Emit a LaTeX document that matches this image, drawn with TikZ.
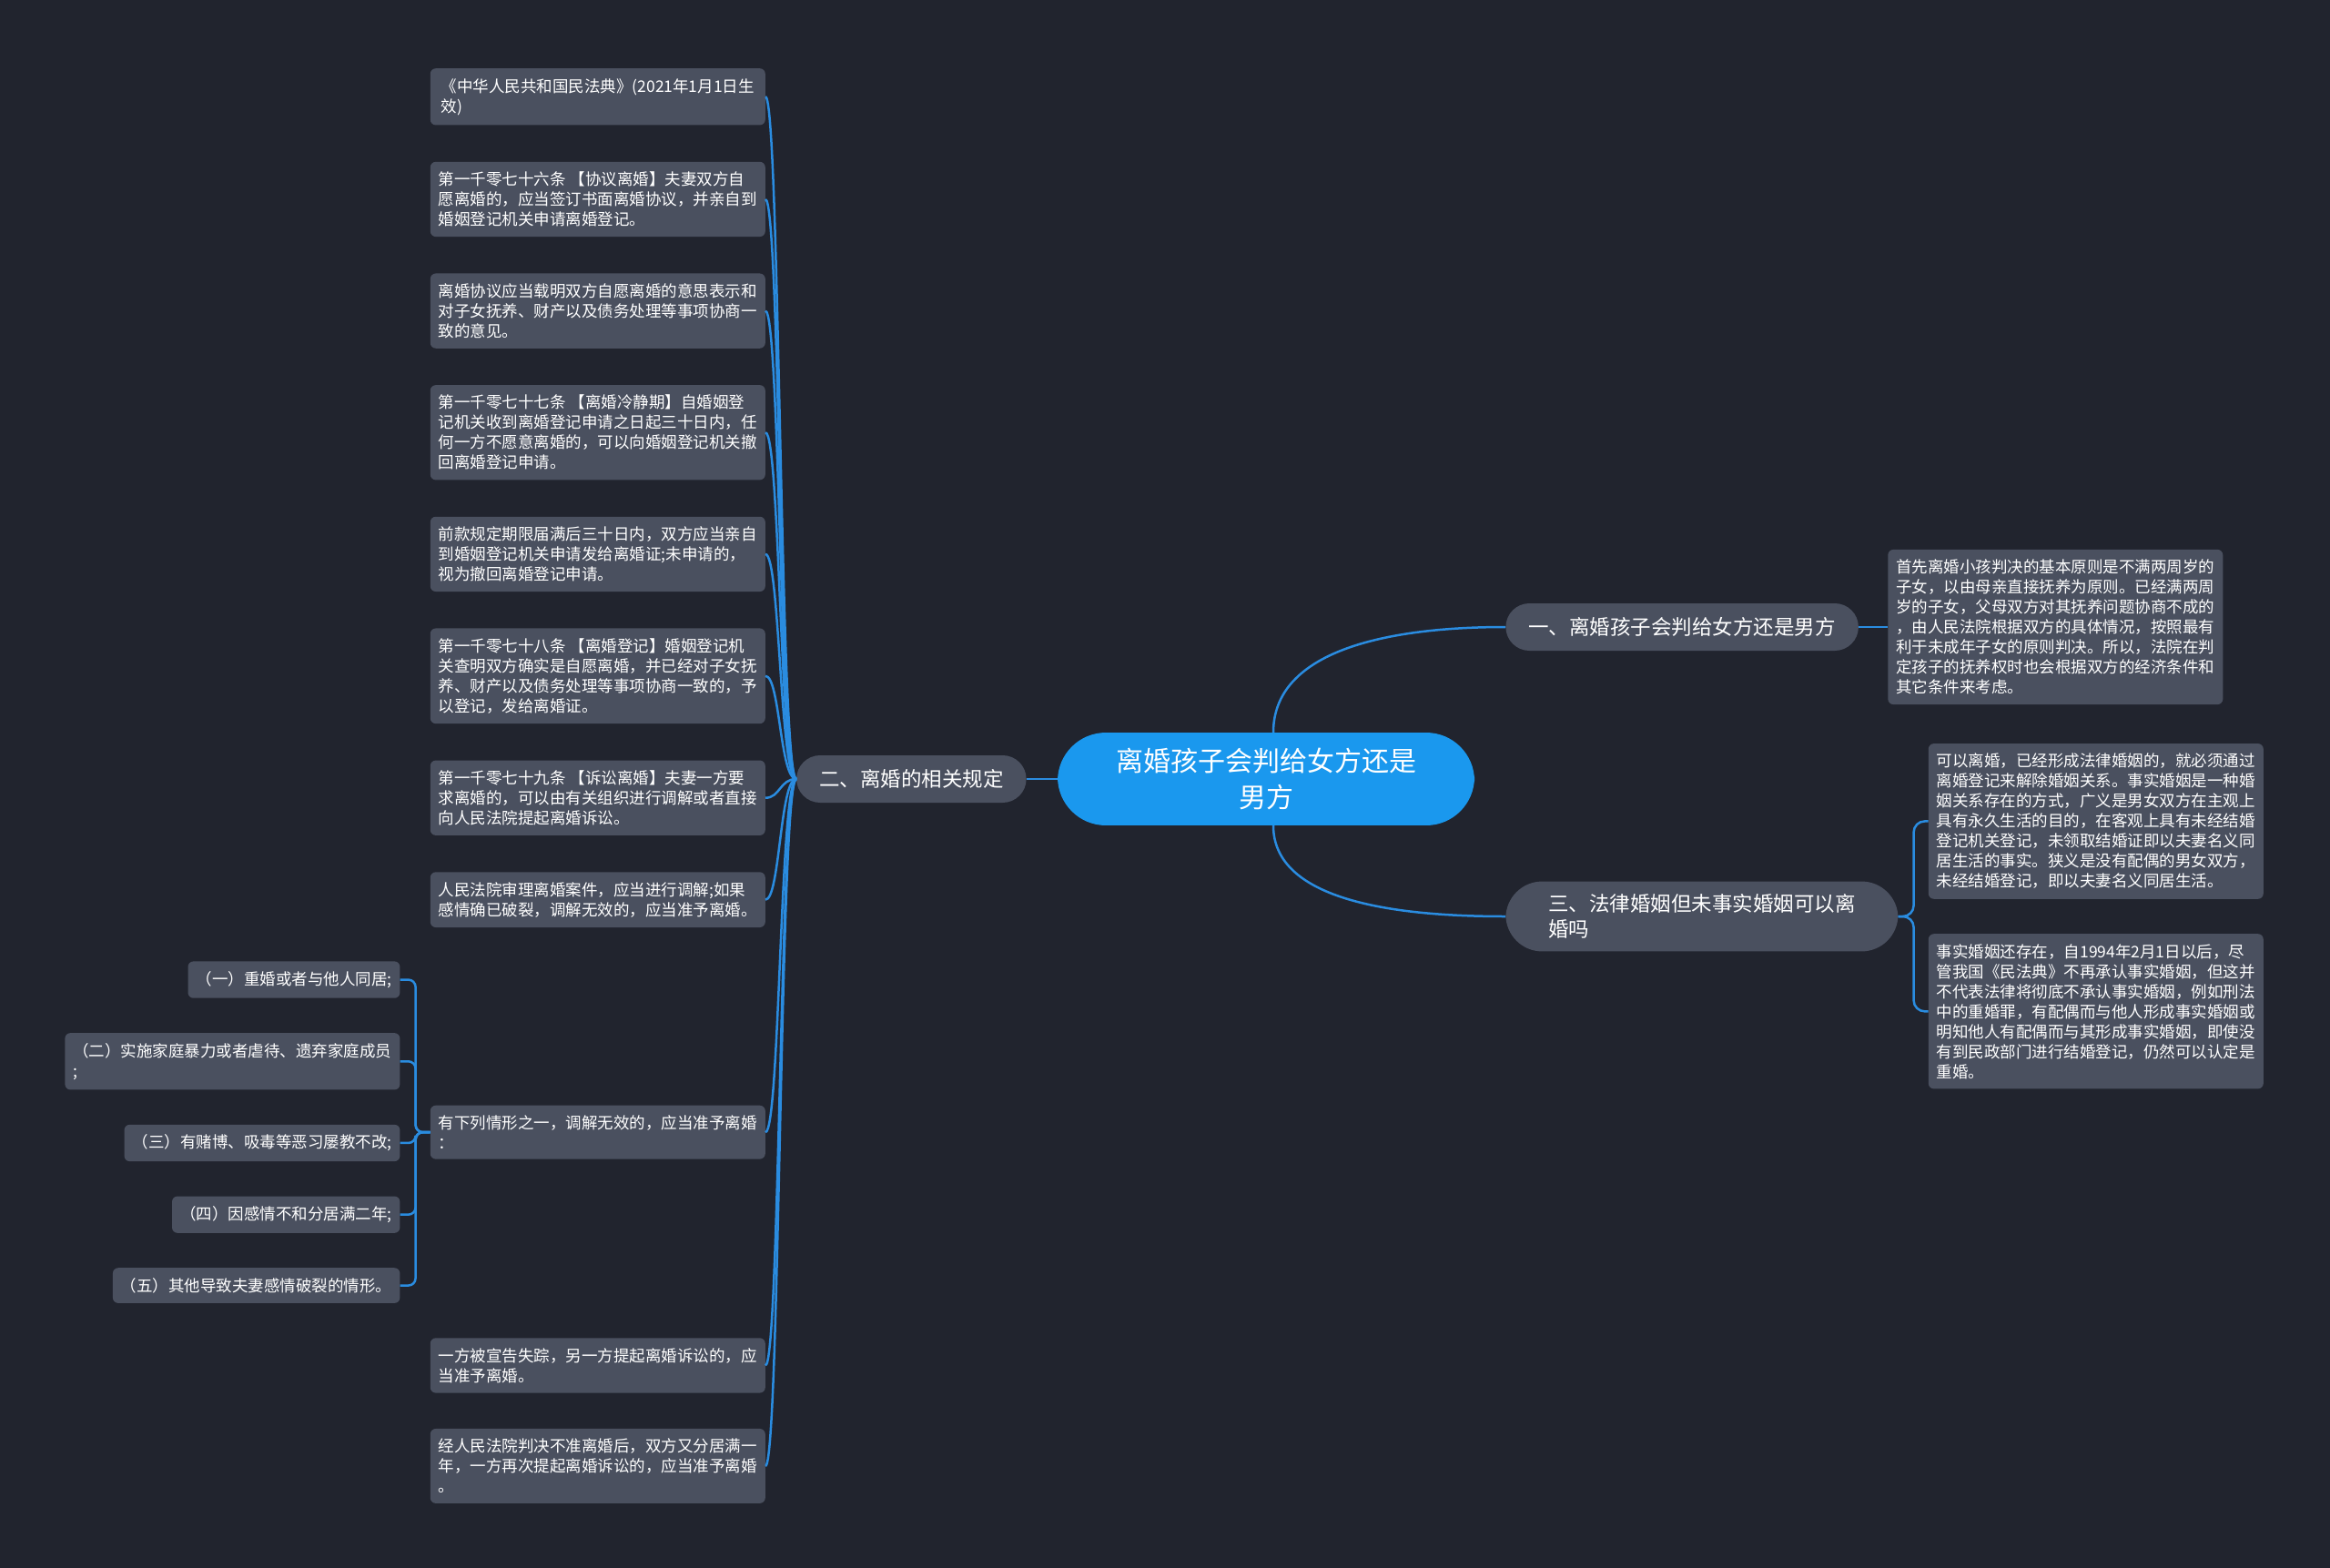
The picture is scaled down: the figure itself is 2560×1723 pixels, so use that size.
\documentclass[tikz,border=0pt]{standalone}
\usepackage{fontspec}
\setmainfont{Noto Sans CJK SC}
\usepackage{tikz}
\usetikzlibrary{positioning,calc}
\definecolor{bgcol}{HTML}{21242E}
\definecolor{boxcol}{HTML}{4A505F}
\definecolor{rootcol}{HTML}{1A98EE}
\definecolor{linkcol}{HTML}{2A8CE0}
\tikzset{
  root/.style={fill=rootcol, rounded corners=53pt, align=center, text=white, font=\fontsize{30}{40}\selectfont, minimum width=458pt, inner ysep=17pt},
  topic/.style={fill=boxcol, rounded corners=26pt, align=left, text=white, font=\fontsize{22.5}{28}\selectfont, inner xsep=25pt, minimum height=52pt},
  leaf/.style={fill=boxcol, rounded corners=6pt, align=left, text=white, font=\fontsize{17.5}{22}\selectfont, minimum width=368pt, inner xsep=9pt, inner ysep=11pt},
  item/.style={leaf, minimum width=0pt},
  link/.style={draw=linkcol, line width=2.5pt}
}
\begin{document}
\begin{tikzpicture}[x=1pt, y=-1pt]
\fill[bgcol] (0,0) rectangle (2560,1723);
\node[root] (root) at (1391,856) {离婚孩子会判给女方还是\\男方};
\node[topic, left=34pt of root] (rules) {二、离婚的相关规定};
\node[topic, anchor=west] (n1) at ([xshift=34pt,yshift=167pt]root.east) {一、离婚孩子会判给女方还是男方};
\node[topic, anchor=west, rounded corners=40pt, inner xsep=40pt, minimum width=431pt, inner ysep=14pt] (n3) at ([xshift=34pt,yshift=-151pt]root.east) {三、法律婚姻但未事实婚姻可以离\\婚吗};
\node[leaf, right=32pt of n1] (f1) {首先离婚小孩判决的基本原则是不满两周岁的\\子女，以由母亲直接抚养为原则。已经满两周\\岁的子女，父母双方对其抚养问题协商不成的\\，由人民法院根据双方的具体情况，按照最有\\利于未成年子女的原则判决。所以，法院在判\\定孩子的抚养权时也会根据双方的经济条件和\\其它条件来考虑。};
\node[leaf, anchor=south west] (f3a) at ([xshift=33pt,yshift=19pt]n3.east) {可以离婚，已经形成法律婚姻的，就必须通过\\离婚登记来解除婚姻关系。事实婚姻是一种婚\\姻关系存在的方式，广义是男女双方在主观上\\具有永久生活的目的，在客观上具有未经结婚\\登记机关登记，未领取结婚证即以夫妻名义同\\居生活的事实。狭义是没有配偶的男女双方，\\未经结婚登记，即以夫妻名义同居生活。};
\node[leaf, anchor=north west] (f3b) at ([xshift=33pt,yshift=-19pt]n3.east) {事实婚姻还存在，自1994年2月1日以后，尽\\管我国《民法典》不再承认事实婚姻，但这并\\不代表法律将彻底不承认事实婚姻，例如刑法\\中的重婚罪，有配偶而与他人形成事实婚姻或\\明知他人有配偶而与其形成事实婚姻，即使没\\有到民政部门进行结婚登记，仍然可以认定是\\重婚。};
\node[leaf, anchor=north east] (c1) at (841,75) {《中华人民共和国民法典》(2021年1月1日生\\效)};
\node[leaf, below=40pt of c1] (c2) {第一千零七十六条~【协议离婚】夫妻双方自\\愿离婚的，应当签订书面离婚协议，并亲自到\\婚姻登记机关申请离婚登记。};
\node[leaf, below=40pt of c2] (c3) {离婚协议应当载明双方自愿离婚的意思表示和\\对子女抚养、财产以及债务处理等事项协商一\\致的意见。};
\node[leaf, below=40pt of c3] (c4) {第一千零七十七条~【离婚冷静期】自婚姻登\\记机关收到离婚登记申请之日起三十日内，任\\何一方不愿意离婚的，可以向婚姻登记机关撤\\回离婚登记申请。};
\node[leaf, below=40pt of c4] (c5) {前款规定期限届满后三十日内，双方应当亲自\\到婚姻登记机关申请发给离婚证;未申请的，\\视为撤回离婚登记申请。};
\node[leaf, below=40pt of c5] (c6) {第一千零七十八条~【离婚登记】婚姻登记机\\关查明双方确实是自愿离婚，并已经对子女抚\\养、财产以及债务处理等事项协商一致的，予\\以登记，发给离婚证。};
\node[leaf, below=40pt of c6] (c7) {第一千零七十九条~【诉讼离婚】夫妻一方要\\求离婚的，可以由有关组织进行调解或者直接\\向人民法院提起离婚诉讼。};
\node[leaf, below=40pt of c7] (c8) {人民法院审理离婚案件，应当进行调解;如果\\感情确已破裂，调解无效的，应当准予离婚。};
\node[item, anchor=north east] (s1) at ([xshift=-33pt,yshift=-37pt]c8.south west) {（一）重婚或者与他人同居;};
\node[item, below=38pt of s1.south east, anchor=north east] (s2) {（二）实施家庭暴力或者虐待、遗弃家庭成员\\;};
\node[item, below=38pt of s2.south east, anchor=north east] (s3) {（三）有赌博、吸毒等恶习屡教不改;};
\node[item, below=38pt of s3.south east, anchor=north east] (s4) {（四）因感情不和分居满二年;};
\node[item, below=38pt of s4.south east, anchor=north east] (s5) {（五）其他导致夫妻感情破裂的情形。};
\coordinate (mid) at ($(s1.north east)!0.5!(s5.south east)$);
\node[leaf, anchor=west] (c9) at ([xshift=33pt]mid) {有下列情形之一，调解无效的，应当准予离婚\\：};
\coordinate (s5foot) at (s5.south -| c9.south);
\node[leaf, below=38pt of s5foot] (c10) {一方被宣告失踪，另一方提起离婚诉讼的，应\\当准予离婚。};
\node[leaf, below=39pt of c10] (c11) {经人民法院判决不准离婚后，双方又分居满一\\年，一方再次提起离婚诉讼的，应当准予离婚\\。};
\draw[link] (root) -- (rules);
\draw[link] ([xshift=8pt]root.north) .. controls +(0,-90) and +(-130,0) .. (n1.west);
\draw[link] ([xshift=8pt]root.south) .. controls +(0,80) and +(-130,0) .. (n3.west);
\draw[link] (n1) -- (f1);
\foreach \f in {f3a,f3b}
  \draw[link, rounded corners=12pt] (n3.east) -- ++(17,0) |- (\f.west);
\foreach \c in {c1,c2,c3,c4,c5,c6,c7,c8,c9,c10,c11}
  \draw[link] (rules.west) .. controls +(-18,0) and +(16,0) .. (\c.east);
\foreach \s in {s1,s2,s3,s4,s5}
  \draw[link, rounded corners=8pt] (c9.west) -- ++(-16,0) |- (\s.east);
\end{tikzpicture}
\end{document}
